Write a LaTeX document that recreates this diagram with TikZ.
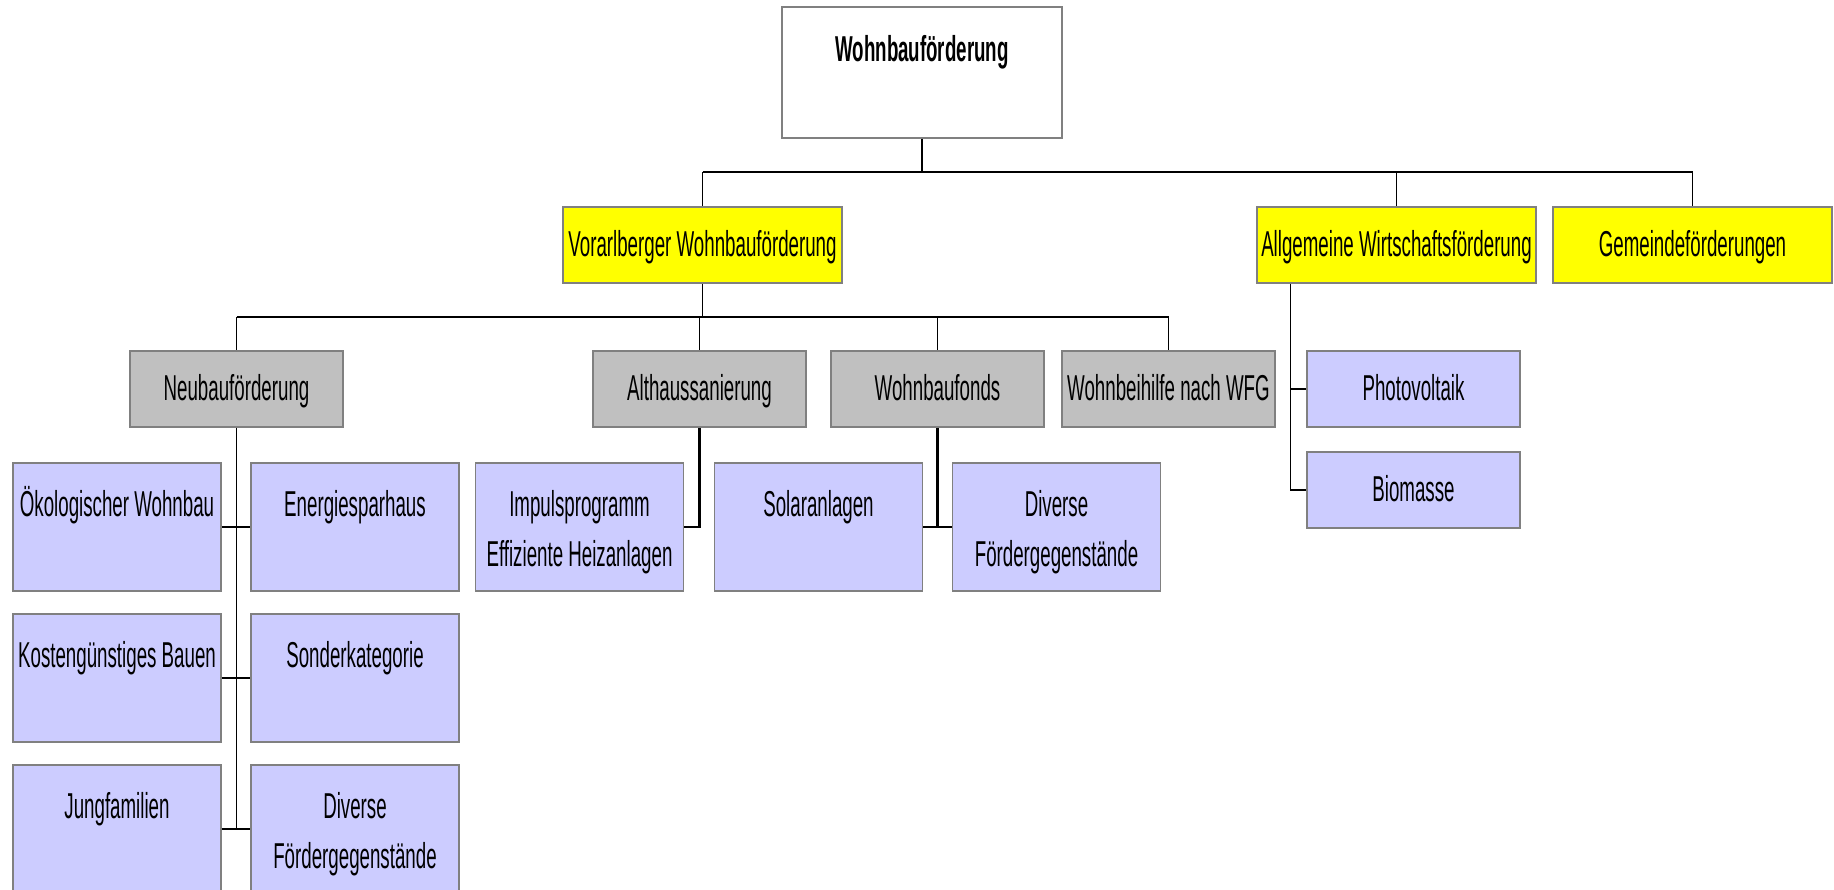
\documentclass[tikz,border=0pt]{standalone}
\usepackage{fontspec}
\setmainfont[FakeStretch=0.52]{Liberation Sans}
\usetikzlibrary{calc}
\definecolor{boxyellow}{RGB}{255,255,0}
\definecolor{boxgray}{RGB}{192,192,192}
\definecolor{boxblue}{RGB}{204,204,255}
\definecolor{boxline}{RGB}{128,128,128}
\newcommand{\twolines}[2]{\begin{tabular}[t]{@{}c@{}}#1\\#2\end{tabular}}
\tikzset{
  every node/.style={font=\fontsize{36}{50}\selectfont, inner sep=0pt},
  box/.style={draw=boxline, line width=1.5pt, minimum width=213pt, minimum height=76pt, text height=49pt, text depth=27pt},
  bigbox/.style={box, minimum width=208pt, minimum height=128pt, text height=53pt, text depth=75pt, fill=boxblue},
  stem/.style={line width=1.3pt},
  stub/.style={line width=2.2pt},
  bar/.style={line width=2.6pt}
}

\begin{document}
\begin{tikzpicture}[x=1pt,y=-1pt]
\useasboundingbox (0,0) rectangle (1834,889);
% top
\node[box, fill=white, minimum width=280pt, minimum height=131pt, text height=54pt, text depth=77pt, font=\bfseries\fontsize{36}{50}\selectfont] (root) at (922,72.5) {Wohnbauförderung};
% first level (yellow)
\node[box, fill=boxyellow, minimum width=279pt] (vor) at (702.5,245) {Vorarlberger Wohnbauförderung};
\node[box, fill=boxyellow, minimum width=279pt] (allg) at (1396.5,245) {Allgemeine Wirtschaftsförderung};
\node[box, fill=boxyellow, minimum width=279pt] (gem) at (1692.5,245) {Gemeindeförderungen};
% second level (gray)
\node[box, fill=boxgray] (neu) at (236.5,389) {Neubauförderung};
\node[box, fill=boxgray] (alt) at (699.5,389) {Althaussanierung};
\node[box, fill=boxgray] (fonds) at (937.5,389) {Wohnbaufonds};
\node[box, fill=boxgray] (beih) at (1168.5,389) {Wohnbeihilfe nach WFG};
\node[box, fill=boxblue] (photo) at (1413.5,389) {Photovoltaik};
\node[box, fill=boxblue] (bio) at (1413.5,490) {Biomasse};
% third level (blue)
\node[bigbox] (oeko) at (117,527) {Ökologischer Wohnbau};
\node[bigbox] (ener) at (355,527) {Energiesparhaus};
\node[bigbox] (kost) at (117,678) {Kostengünstiges Bauen};
\node[bigbox] (sond) at (355,678) {Sonderkategorie};
\node[bigbox] (jung) at (117,829) {Jungfamilien};
\node[bigbox] (divA) at (355,829) {\twolines{Diverse}{Fördergegenstände}};
\node[bigbox] (imp) at (579.5,527) {\twolines{Impulsprogramm}{Effiziente Heizanlagen}};
\node[bigbox] (sol) at (818.5,527) {Solaranlagen};
\node[bigbox] (divB) at (1056.5,527) {\twolines{Diverse}{Fördergegenstände}};
% buses
\coordinate (bus1) at (0,172);
\coordinate (bus2) at (0,317);
\draw[stem] (root.south) -- (root.south |- bus1);
\draw[bar] (vor.north |- bus1) -- (gem.north |- bus1);
\foreach \c in {vor,allg,gem}{\draw[stem] (\c.north |- bus1) -- (\c.north);}
\draw[stem] (vor.south) -- (vor.south |- bus2);
\draw[bar] (neu.north |- bus2) -- (beih.north |- bus2);
\foreach \c in {neu,alt,fonds,beih}{\draw[stem] (\c.north |- bus2) -- (\c.north);}
% Neubau branch
\draw[stem] (neu.south) -- (neu.south |- jung.east);
\foreach \l/\r in {oeko/ener,kost/sond,jung/divA}{\draw[stub] (\l.east) -- (\r.west);}
% Althaus and Wohnbaufonds branches
\draw[stub] (alt.south) |- (imp.east);
\draw[stub] (fonds.south) -- (fonds.south |- sol.east);
\draw[stub] (sol.east) -- (divB.west);
% Wirtschaft branch
\coordinate (allgstem) at ($(allg.south west)+(34,0)$);
\draw[stem] (allgstem) -- (allgstem |- bio.west);
\foreach \c in {photo,bio}{\draw[stub] (allgstem |- \c.west) -- (\c.west);}
\end{tikzpicture}
\end{document}
